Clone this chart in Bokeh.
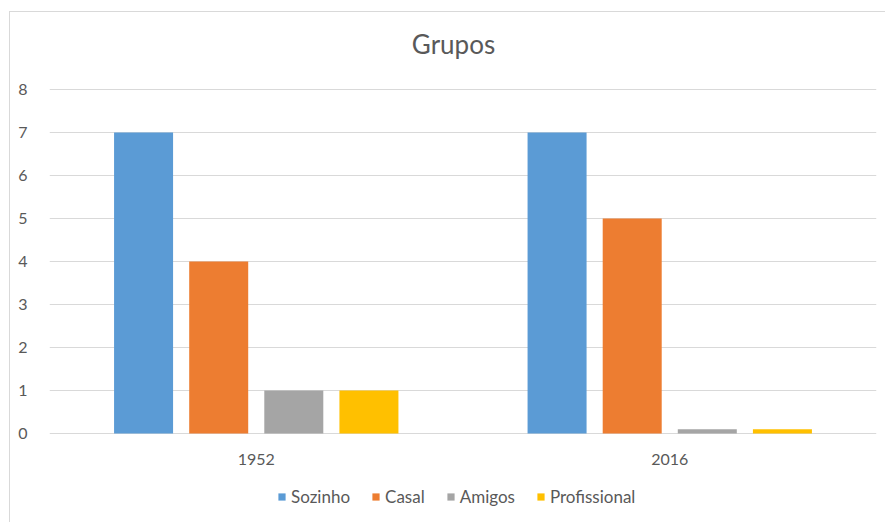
from bokeh.plotting import figure
from bokeh.models import FactorRange, Legend, LegendItem, ColumnDataSource, Range1d, FixedTicker, Label
from bokeh.core.properties import value
from bokeh.transform import dodge
from bokeh.embed import file_html
from bokeh.resources import INLINE

years = ["1952", "2016"]
series_names = ["Sozinho", "Casal", "Amigos", "Profissional"]
sozinho = [7, 7]
casal = [4, 5]
amigos = [1, 0.1]
profissional = [1, 0.1]
colors = ["#5B9BD5", "#ED7D31", "#A5A5A5", "#FFC000"]
y_ticks = [0, 1, 2, 3, 4, 5, 6, 7, 8]

src = ColumnDataSource(dict(year=years, Sozinho=sozinho, Casal=casal,
                            Amigos=amigos, Profissional=profissional,
                            label_y=[-0.6, -0.6]))

FONT = "Lato"
TXT = "#595959"

# frame spans the whole canvas height; value 0 sits 90px above the bottom, 43px per unit
p = figure(x_range=FactorRange(factors=years, range_padding=0),
           y_range=Range1d(-90 / 43, 8 + 77 / 43),
           title=None, x_axis_location=None,
           width=876, height=511, output_backend="svg", toolbar_location=None,
           min_border_left=39, min_border_right=10, min_border_top=0, min_border_bottom=0,
           margin=(11, 0, 0, 9))
p.styles = {"border-left": "1px solid #d9d9d9", "border-top": "1px solid #d9d9d9"}
p.outline_line_color = None
p.background_fill_color = "white"
p.border_fill_color = "white"

offsets = [-0.2725, -0.0908, 0.0908, 0.2725]
renderers = []
for name, off, col in zip(series_names, offsets, colors):
    r = p.vbar(x=dodge("year", off, range=p.x_range), top=name, width=0.1427,
               source=src, fill_color=col, line_color=None)
    renderers.append(r)

# category labels
p.text(x="year", y="label_y", text="year", source=src, text_align="center",
       text_baseline="middle", text_font=value(FONT), text_font_size="16px",
       text_color=TXT)

p.xgrid.grid_line_color = None
p.ygrid.grid_line_color = "#d9d9d9"
p.ygrid.grid_line_width = 1
p.yaxis.ticker = FixedTicker(ticks=y_ticks)
p.yaxis.axis_line_color = None
p.yaxis.major_tick_line_color = None
p.yaxis.minor_tick_line_color = None
p.yaxis.major_label_text_font = FONT
p.yaxis.major_label_text_font_size = "16px"
p.yaxis.major_label_text_color = TXT
p.yaxis.major_label_standoff = 16

title = Label(x=404, y=480, x_units="screen", y_units="screen", text="Grupos",
              text_align="center", text_baseline="middle", text_font=FONT,
              text_font_size="26px", text_color=TXT)
p.add_layout(title)

legend = Legend(items=[LegendItem(label=n, renderers=[r]) for n, r in zip(series_names, renderers)],
                orientation="horizontal", location=(228, 16),
                glyph_width=9, glyph_height=9, label_standoff=5, spacing=21,
                padding=0, margin=0, border_line_color=None, background_fill_alpha=0,
                label_text_font=FONT, label_text_font_size="17px", label_text_color=TXT)
p.add_layout(legend, "center")

open("out.html", "w").write(file_html(p, INLINE))
